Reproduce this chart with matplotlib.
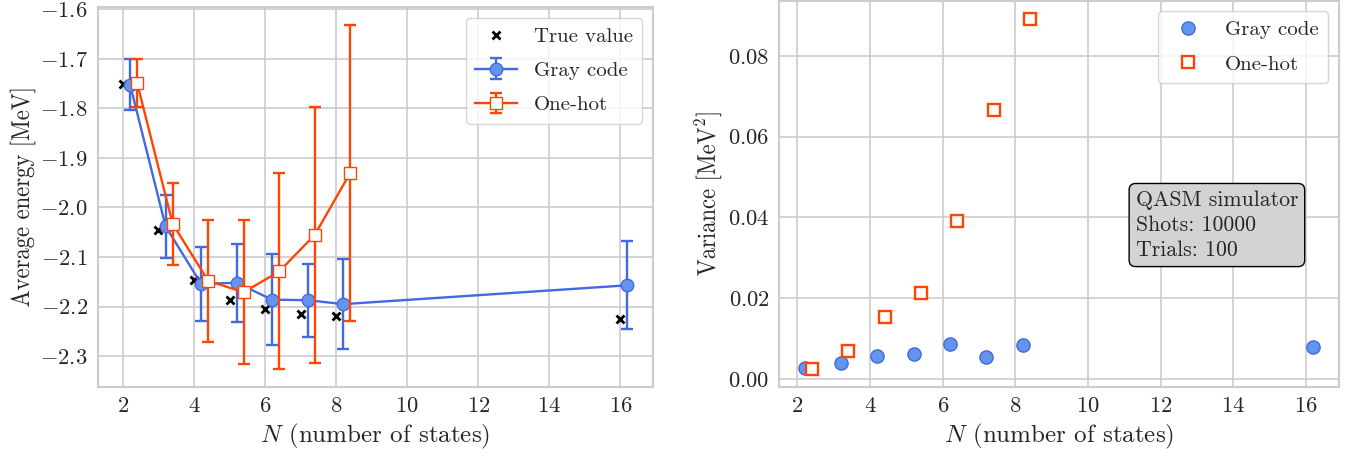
import numpy as np
import matplotlib
matplotlib.use("Agg")
import matplotlib.pyplot as plt
from matplotlib.patheffects import AbstractPathEffect
from matplotlib.transforms import Affine2D

# Number of basis states and the estimated quantities
n_true = [2, 3, 4, 5, 6, 7, 8, 16]
e_true = [-1.750, -2.046, -2.146, -2.187, -2.205, -2.214, -2.218, -2.224]

n_gray = [2.2, 3.2, 4.2, 5.2, 6.2, 7.2, 8.2, 16.2]
e_gray = [-1.752, -2.038, -2.154, -2.152, -2.186, -2.187, -2.195, -2.157]
var_gray = [0.00264, 0.00397, 0.00562, 0.00612, 0.00851, 0.00545, 0.00826, 0.00785]

n_onehot = [2.4, 3.4, 4.4, 5.4, 6.4, 7.4, 8.4]
e_onehot = [-1.749, -2.033, -2.148, -2.171, -2.129, -2.055, -1.930]
var_onehot = [0.0024, 0.00694, 0.0153, 0.02116, 0.0391, 0.0665, 0.0892]

x_ticks = [2, 4, 6, 8, 10, 12, 14, 16]
sim_info = "QASM simulator\nShots: 10000\nTrials: 100"


class Condense(AbstractPathEffect):
    """Narrow the glyphs along the baseline, keeping the string centred."""

    def __init__(self, sx):
        super().__init__()
        self.sx = sx

    def draw_path(self, renderer, gc, tpath, affine, rgbFace=None):
        xs = tpath.vertices[:, 0]
        cx = 0.5 * (xs.min() + xs.max())
        squeeze = Affine2D().translate(-cx, 0).scale(self.sx, 1).translate(cx, 0)
        renderer.draw_path(gc, tpath, squeeze + affine, rgbFace)


plt.rcParams.update({
    "font.family": "serif",
    "font.serif": ["cmr10"],
    "mathtext.fontset": "cm",
    "axes.formatter.use_mathtext": True,
    "axes.facecolor": "white",
    "axes.edgecolor": "#cccccc",
    "axes.linewidth": 1.5,
    "axes.grid": True,
    "grid.color": "#cccccc",
    "grid.linewidth": 1.2,
    "xtick.bottom": False,
    "ytick.left": False,
    "xtick.labelsize": 16.3,
    "ytick.labelsize": 16.3,
    "axes.labelsize": 18,
    "legend.fontsize": 15,
    "legend.labelspacing": 0.75,
    "text.color": "#262626",
    "xtick.color": "#262626",
    "ytick.color": "#262626",
    "axes.labelcolor": "#262626",
})

blue_line = "#4169e1"
blue_face = "#6495ed"
red = "#ff4500"

fig = plt.figure(figsize=(13.59, 4.58), dpi=100)
ax1 = fig.add_axes([0.0719, 0.1557, 0.4084, 0.828])
ax2 = fig.add_axes([0.5734, 0.1557, 0.4117, 0.842])
for ax in (ax1, ax2):
    ax.set_axisbelow(True)

# Average energy with one-standard-deviation error bars
ax1.plot(n_true, e_true, "x", color="black", ms=6, mew=2, label="True value", zorder=3)
ax1.errorbar(n_gray, e_gray, yerr=np.sqrt(var_gray), color=blue_line, marker="o",
             ms=9, mfc=blue_face, mec=blue_line, lw=1.7, elinewidth=1.7,
             capsize=4, capthick=1.7, label="Gray code", zorder=4)
ax1.errorbar(n_onehot, e_onehot, yerr=np.sqrt(var_onehot), color=red, marker="s",
             ms=9, mfc="white", mec=red, lw=1.7, elinewidth=1.7,
             capsize=4, capthick=1.7, label="One-hot", zorder=5)
ax1.set_xticks(x_ticks)
ax1.set_xlabel(r"$N$ (number of states)")
ax1.set_ylabel("Average energy [MeV]", fontsize=18.5, labelpad=3,
               path_effects=[Condense(0.88)])
ax1.legend(loc="upper right", framealpha=0.8, borderpad=0.45)

# Variance of the estimates
ax2.plot(n_gray, var_gray, "o", ms=9.5, mfc=blue_face, mec=blue_line, mew=1.0,
         label="Gray code")
ax2.plot(n_onehot, var_onehot, "s", ms=9, mfc="white", mec=red, mew=1.7,
         label="One-hot")
ax2.set_xticks(x_ticks)
ax2.set_xlabel(r"$N$ (number of states)")
ax2.set_ylabel(r"Variance [MeV$^2$]", fontsize=18.5, labelpad=3,
               path_effects=[Condense(0.88)])
ax2.legend(loc="upper right", framealpha=0.8, borderpad=0.45)
ax2.text(0.637, 0.51, sim_info, transform=ax2.transAxes, fontsize=15.7,
         va="top", ha="left", linespacing=1.37,
         bbox=dict(boxstyle="round,pad=0.3", facecolor="lightgray", edgecolor="black"))

fig.savefig("out.png", dpi=100)
